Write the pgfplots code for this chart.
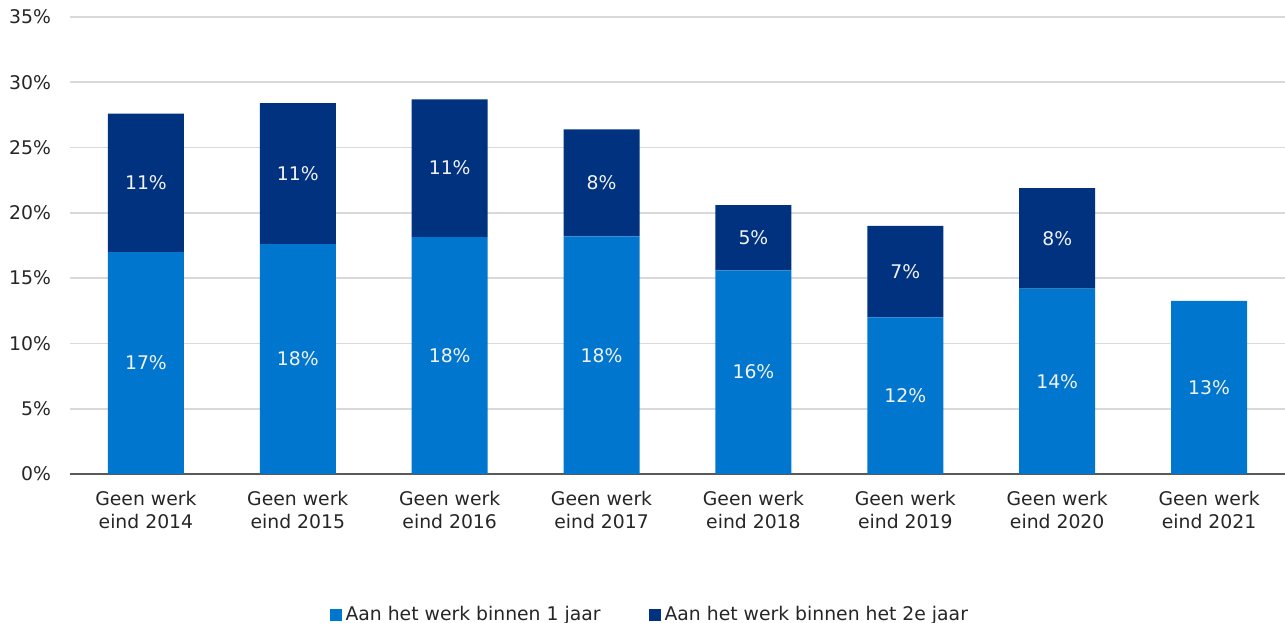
\documentclass[border=0pt]{standalone}
\usepackage{fontspec}
\setmainfont{DejaVu Sans}
\usepackage{pgfplots}
\pgfplotsset{compat=1.18}
\usepackage{pgfplotstable}

\definecolor{lichtblauw}{HTML}{0076CF}
\definecolor{donkerblauw}{HTML}{003280}
\definecolor{rooster}{HTML}{D9D9D9}
\definecolor{tekst}{HTML}{262626}
\definecolor{aslijn}{HTML}{595959}

% binnen 1 jaar (onderste deel)
\pgfplotstableread{
x y
0 17.0
1 17.6
2 18.15
3 18.2
4 15.6
5 12.0
6 14.2
7 13.25
}\eenjaar

% binnen het 2e jaar (bovenste deel)
\pgfplotstableread{
x y
0 10.6
1 10.8
2 10.55
3 8.2
4 5.0
5 7.0
6 7.7
}\tweedejaar

\begin{document}
\begin{tikzpicture}
\begin{axis}[
    name=ax,
    scale only axis,
    width=607.5pt, height=228.5pt,
    ybar stacked,
    bar width=0.5,
    xmin=-0.5, xmax=7.5,
    ymin=0, ymax=35,
    ytick={0,5,...,35},
    yticklabel={\pgfmathprintnumber{\tick}\%},
    xtick={0,...,7},
    xticklabels={Geen werk\\eind 2014, Geen werk\\eind 2015, Geen werk\\eind 2016,
        Geen werk\\eind 2017, Geen werk\\eind 2018, Geen werk\\eind 2019,
        Geen werk\\eind 2020, Geen werk\\eind 2021},
    /pgf/number format/assume math mode=true,
    major tick length=0pt,
    ymajorgrids,
    grid style={rooster, line width=0.8pt},
    axis x line*=bottom,
    axis y line*=left,
    y axis line style={draw=none},
    x axis line style={aslijn, line width=0.8pt, -},
    tick label style={font=\fontsize{9.4}{11.5}\selectfont, text=tekst},
    xticklabel style={align=center, yshift=-5pt},
    yticklabel style={xshift=-6pt},
    legend style={
        at={(0.478,-0.309)}, anchor=center,
        draw=none, legend columns=2,
        font=\fontsize{9.4}{11.5}\selectfont, text=tekst,
        /tikz/every even column/.append style={column sep=22pt},
    },
    legend image code/.code={\fill[#1] (0pt,-3pt) rectangle (6pt,3pt);},
    % in gestapelde staven staan de labels al midden in elk deel
    nodes near coords={\pgfmathprintnumber[fixed,precision=0]{\segval}\%},
    every node near coord/.append style={
        anchor=center, text=white!95!black,
        font=\fontsize{9.4}{11.5}\selectfont,
    },
]
\addplot[fill=lichtblauw, draw=none,
    visualization depends on={\thisrow{y} \as \segval}]
    table[x=x, y=y] {\eenjaar};
\addlegendentry{Aan het werk binnen 1 jaar}
\addplot[fill=donkerblauw, draw=none,
    visualization depends on={\thisrow{y} \as \segval}]
    table[x=x, y=y] {\tweedejaar};
\addlegendentry{Aan het werk binnen het 2e jaar}
\end{axis}
\pgfresetboundingbox
\useasboundingbox ([xshift=-35pt, yshift=-74.5pt]ax.south west)
    rectangle ([yshift=8.5pt]ax.north east);
\end{tikzpicture}
\end{document}
